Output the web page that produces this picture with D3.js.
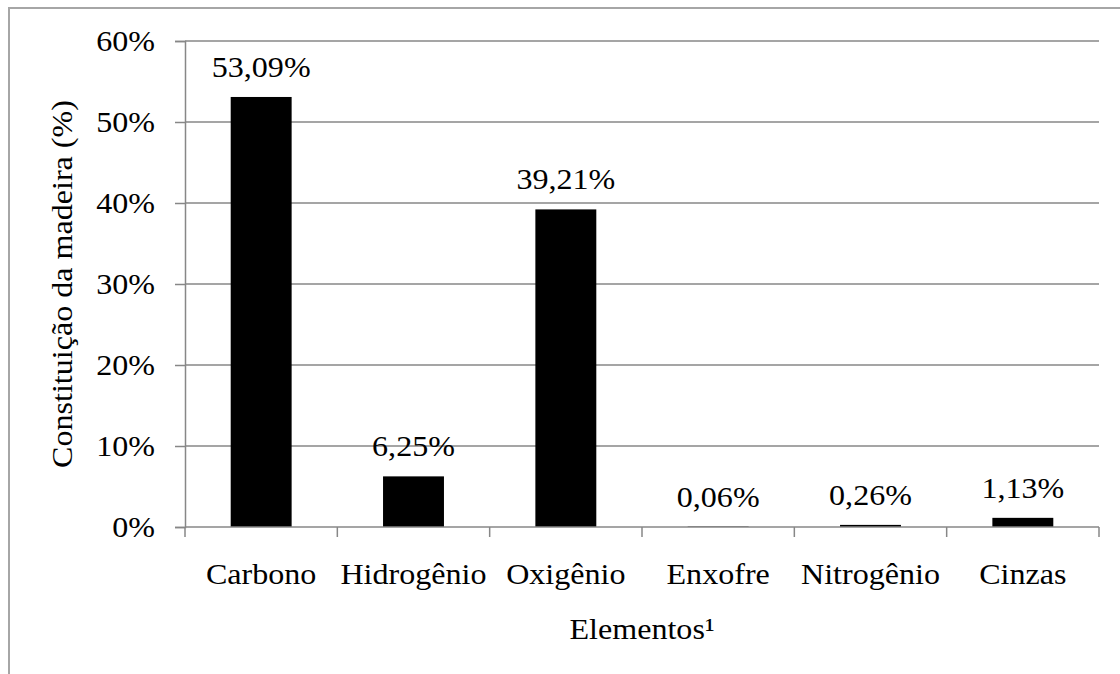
<!DOCTYPE html>
<html>
<head>
<meta charset="utf-8">
<script src="https://cdn.jsdelivr.net/npm/d3@7"></script>
<style>
  html, body { margin: 0; padding: 0; background: #fff; }
  svg { display: block; }
</style>
</head>
<body>
<svg id="chart" width="1120" height="674"></svg>
<script>
// Wood elemental composition (% of dry mass)
const categories = ["Carbono", "Hidrogênio", "Oxigênio", "Enxofre", "Nitrogênio", "Cinzas"];
const values = [53.09, 6.25, 39.21, 0.06, 0.26, 1.13];
const valueLabels = ["53,09%", "6,25%", "39,21%", "0,06%", "0,26%", "1,13%"];
const yTicks = [0, 10, 20, 30, 40, 50, 60];
const yTitle = "Constituição da madeira (%)";
const xTitle = "Elementos¹";

const FONT = "'Liberation Serif', 'Times New Roman', serif";
const FS = "30px";
const STRETCH = 1.07; // slightly widened glyphs

const svg = d3.select("#chart");
const W = 1120, H = 674;
const margin = { left: 185, right: 21, top: 41, bottom: 147 };
const innerW = W - margin.left - margin.right;
const innerH = H - margin.top - margin.bottom;

// outer frame (top and left edges visible)
svg.append("path")
  .attr("d", `M9,${H} L9,8 L${W},8`)
  .attr("fill", "none")
  .attr("stroke", "#a6a6a6")
  .attr("stroke-width", 2);

const x = d3.scaleBand().domain(categories).range([margin.left, margin.left + innerW]).paddingInner(0.6).paddingOuter(0.3);
const xOuter = d3.scaleBand().domain(categories).range([margin.left, margin.left + innerW]).padding(0);
const y = d3.scaleLinear().domain([0, 60]).range([margin.top + innerH, margin.top]);

const gridColor = "#878787";

// place a text at (px, py) with a small horizontal stretch
function placeText(sel, px, py) {
  return sel
    .attr("font-family", FONT).attr("font-size", FS).attr("fill", "#000")
    .attr("transform", (d, i) => {
      const tx = typeof px === "function" ? px(d, i) : px;
      const ty = typeof py === "function" ? py(d, i) : py;
      return `translate(${tx},${ty}) scale(${STRETCH},1)`;
    });
}

// horizontal gridlines
svg.append("g").selectAll("line").data(yTicks.filter(t => t > 0)).join("line")
  .attr("x1", margin.left).attr("x2", margin.left + innerW)
  .attr("y1", d => y(d)).attr("y2", d => y(d))
  .attr("stroke", gridColor).attr("stroke-width", 1.5);

// y axis
const yAxis = d3.axisLeft(y).tickValues(yTicks).tickFormat(d => d + "%").tickSize(10).tickPadding(20);
const gy = svg.append("g").attr("transform", `translate(${margin.left},0)`).call(yAxis);
gy.attr("font-family", FONT).attr("font-size", FS);
gy.select(".domain").attr("stroke", gridColor).attr("stroke-width", 1.5);
gy.selectAll(".tick line").attr("stroke", gridColor).attr("stroke-width", 1.5);
gy.selectAll(".tick text")
  .attr("font-family", FONT).attr("font-size", FS).attr("fill", "#000")
  .attr("x", null)
  .attr("transform", `translate(-30,0) scale(${STRETCH},1)`);

// x axis ticks at category boundaries
const boundaries = categories.map(c => xOuter(c)).concat([margin.left + innerW]);
svg.append("g").selectAll("line").data(boundaries).join("line")
  .attr("x1", d => d).attr("x2", d => d)
  .attr("y1", y(0)).attr("y2", y(0) + 10)
  .attr("stroke", gridColor).attr("stroke-width", 1.5);

// bars
svg.append("g").selectAll("rect").data(values).join("rect")
  .attr("x", (d, i) => x(categories[i]))
  .attr("width", x.bandwidth())
  .attr("y", d => y(d))
  .attr("height", d => y(0) - y(d))
  .attr("fill", "#000");

// baseline drawn over the bars
svg.append("line")
  .attr("x1", margin.left).attr("x2", margin.left + innerW)
  .attr("y1", y(0)).attr("y2", y(0))
  .attr("stroke", gridColor).attr("stroke-width", 1.5);

// value labels
placeText(svg.append("g").selectAll("text").data(values).join("text"),
    (d, i) => x(categories[i]) + x.bandwidth() / 2,
    d => y(d) - 20)
  .attr("text-anchor", "middle")
  .text((d, i) => valueLabels[i]);

// category labels
placeText(svg.append("g").selectAll("text").data(categories).join("text"),
    c => xOuter(c) + xOuter.bandwidth() / 2,
    584)
  .attr("text-anchor", "middle")
  .text(c => c);

// axis titles
placeText(svg.append("text"), margin.left + innerW / 2, 639)
  .attr("text-anchor", "middle")
  .text(xTitle);

svg.append("text")
  .attr("font-family", FONT).attr("font-size", FS).attr("fill", "#000")
  .attr("transform", `translate(72,${margin.top + innerH / 2}) rotate(-90) scale(${STRETCH},1)`)
  .attr("text-anchor", "middle")
  .text(yTitle);
</script>
</body>
</html>
